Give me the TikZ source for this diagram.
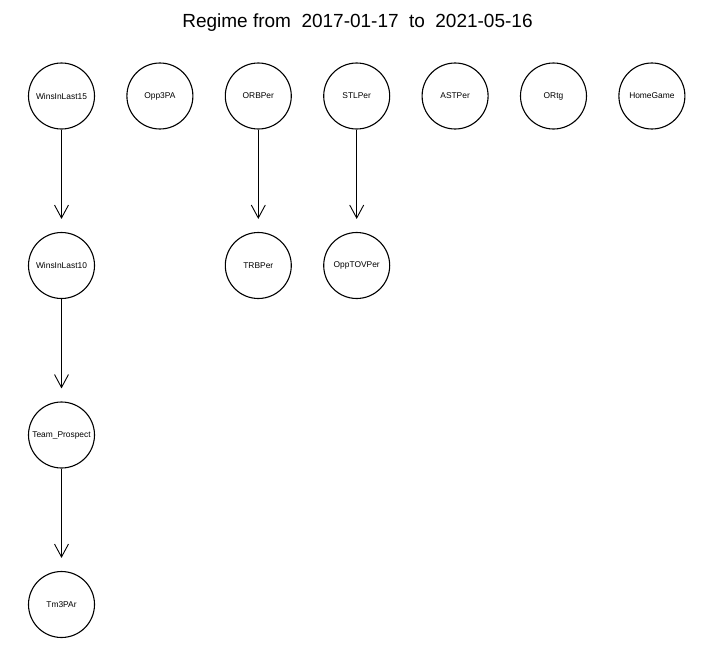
\documentclass[tikz,border=0pt]{standalone}
\usepackage{fontspec}
\setmainfont{Liberation Sans}
\usetikzlibrary{arrows.meta}
\begin{document}
\begin{tikzpicture}[x=1pt,y=-1pt,
  var/.style={circle,draw,line width=1.1pt,minimum size=66pt,inner sep=0pt,font=\fontsize{8.4}{10}\selectfont},
  edge/.style={line width=0.9pt,-{Straight Barb[length=13pt,width=14pt,line width=0.9pt]},shorten >=13pt}]
\useasboundingbox (0,0) rectangle (716,664);
\node[font=\fontsize{19}{22}\selectfont,anchor=base] (title) at (357.5,27) {Regime from\hspace{0.55em}2017-01-17\hspace{0.55em}to\hspace{0.55em}2021-05-16};
\node[var] (w15) at (61.5,96) {WinsInLast15};
\node[var] (opp3pa) at (159.9,96) {Opp3PA};
\node[var] (orb) at (258.3,96) {ORBPer};
\node[var] (stl) at (356.7,96) {STLPer};
\node[var] (ast) at (455.1,96) {ASTPer};
\node[var] (ortg) at (553.5,96) {ORtg};
\node[var] (home) at (651.9,96) {HomeGame};
\node[var] (w10) at (61.5,265.5) {WinsInLast10};
\node[var] (trb) at (258.3,265.5) {TRBPer};
\node[var] (opptov) at (356.7,265.5) {OppTOVPer};
\node[var] (team) at (61.5,435) {Team\_Prospect};
\node[var] (tm3) at (61.5,604.5) {Tm3PAr};
\draw[edge] (w15) -- (w10);
\draw[edge] (w10) -- (team);
\draw[edge] (team) -- (tm3);
\draw[edge] (orb) -- (trb);
\draw[edge] (stl) -- (opptov);
\end{tikzpicture}
\end{document}
